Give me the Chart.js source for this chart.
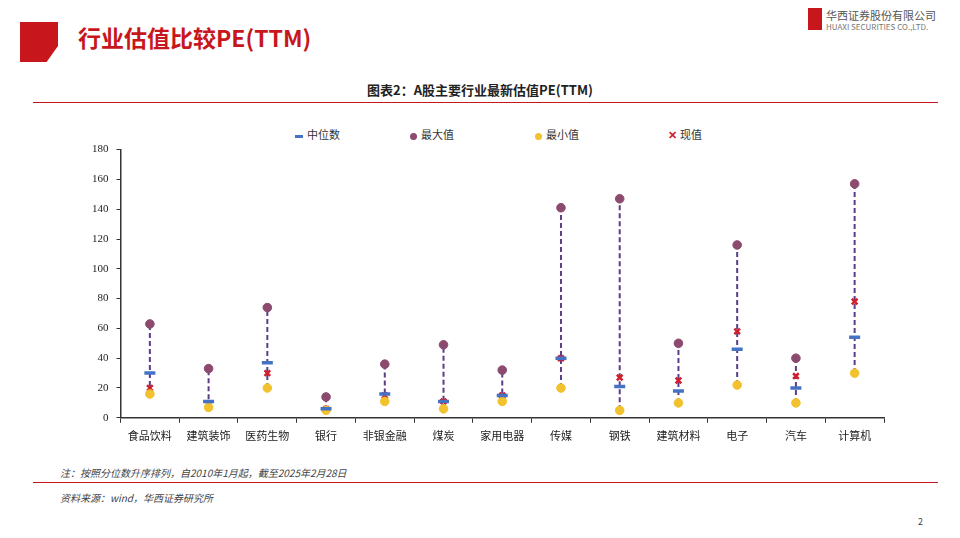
<!DOCTYPE html>
<html><head><meta charset="utf-8">
<script src="https://cdn.jsdelivr.net/npm/chart.js@4"></script>
<style>
body{margin:0;width:960px;height:538px;background:#fff;position:relative;overflow:hidden;font-family:"Noto Sans CJK SC",sans-serif}
.abs{position:absolute}
.lg{position:absolute;top:126px;font-size:11px;color:#333;white-space:nowrap}
.lg i{display:inline-block;vertical-align:middle;margin-right:4px}
</style></head><body>
<div class="abs" style="left:20px;top:22px;width:38px;height:40px;background:#c8161d;clip-path:polygon(0 0,100% 0,100% 60%,70% 100%,0 100%)"></div>
<div class="abs" style="left:78px;top:20px;font-size:23px;font-weight:bold;color:#c8161d">行业估值比较PE(TTM)</div>
<div class="abs" style="left:808px;top:8px;width:14px;height:22px;background:#c8161d"></div>
<div class="abs" style="left:826px;top:7px;font-size:11px;color:#555;font-family:'Noto Sans CJK SC'">华西证券股份有限公司</div>
<div class="abs" style="left:826px;top:21px;font-size:8px;color:#777">HUAXI SECURITIES CO.,LTD.</div>
<div class="abs" style="left:0;width:960px;top:80px;text-align:center;font-size:13px;font-weight:bold;color:#222">图表2：A股主要行业最新估值PE(TTM)</div>
<div class="abs" style="left:33px;top:102px;width:905px;height:1px;background:#c8161d"></div>
<div class="abs" style="left:33px;top:482px;width:905px;height:1px;background:#c8161d"></div>
<div class="abs" style="left:60px;top:465px;font-size:10px;font-style:italic;color:#444">注：按照分位数升序排列，自2010年1月起，截至2025年2月28日</div>
<div class="abs" style="left:60px;top:490px;font-size:10px;font-style:italic;color:#444">资料来源：wind，华西证券研究所</div>
<div class="abs" style="left:918px;top:515px;font-size:9px;color:#444">2</div>
<div class="lg" style="left:295px"><i style="width:8px;height:3px;background:#4472c4"></i>中位数</div>
<div class="lg" style="left:410px"><i style="width:7px;height:7px;border-radius:50%;background:#8b4a6e"></i>最大值</div>
<div class="lg" style="left:535px"><i style="width:7px;height:7px;border-radius:50%;background:#f2c12e"></i>最小值</div>
<div class="lg" style="left:668px"><span style="color:#d0202e;font-weight:bold;margin-right:3px">✕</span>现值</div>
<div class="abs" style="left:84px;top:135px;width:815px;height:313px"><canvas id="c"></canvas></div>
<script>
const categories=["食品饮料","建筑装饰","医药生物","银行","非银金融","煤炭","家用电器","传媒","钢铁","建筑材料","电子","汽车","计算机"];
const medianVals=[30,11,37,6,16,11,15,40,21,18,46,20,54];
const maxVals=[63,33,74,14,36,49,32,141,147,50,116,40,157];
const minVals=[16,7,20,5,11,6,11,20,5,10,22,10,30];
const currentVals=[20,9,30,6,15,11,15,40,27,25,58,28,78];
const yTicks=[0,20,40,60,80,100,120,140,160,180];
const dashPlugin={id:'dash',beforeDatasetsDraw(ch){const x=ch.scales.x,y=ch.scales.y,c=ch.ctx;c.save();c.setLineDash([5,3]);c.lineWidth=2;c.strokeStyle='#5a3e8a';
categories.forEach((_,i)=>{const px=x.getPixelForValue(i);c.beginPath();c.moveTo(px,y.getPixelForValue(minVals[i]));c.lineTo(px,y.getPixelForValue(maxVals[i]));c.stroke();});c.restore();}};
const pt=(label,data,style,color,r,bw)=>({label,data,showLine:false,pointStyle:style,pointRadius:r,pointBackgroundColor:color,pointBorderColor:color,pointBorderWidth:bw,backgroundColor:color,borderColor:color});
new Chart(document.getElementById('c'),{type:'line',
data:{labels:categories,datasets:[
pt('中位数',medianVals,'line','#4472c4',5.5,3.5),
pt('最大值',maxVals,'circle','#8b4a6e',4.3,1),
pt('最小值',minVals,'circle','#f2c12e',4.3,1),
pt('现值',currentVals,'crossRot','#d0202e',4,2.5)]},
plugins:[dashPlugin],
options:{animation:false,responsive:true,maintainAspectRatio:false,
layout:{padding:{left:0,right:15,top:2}},
plugins:{legend:{display:false},tooltip:{enabled:false}},
scales:{
x:{offset:true,grid:{display:true,drawOnChartArea:false,offset:true,tickLength:5,color:'#333'},border:{color:'#333',width:1.5},ticks:{color:'#222',padding:6,font:{size:11,family:'Noto Sans CJK SC'}}},
y:{min:0,max:180,afterBuildTicks(a){a.ticks=yTicks.map(v=>({value:v}))},grid:{drawOnChartArea:false,tickLength:4,color:'#333'},border:{color:'#333',width:1.5},ticks:{color:'#222',padding:8,font:{size:11,family:'Liberation Serif'}}}
}}});
</script></body></html>
